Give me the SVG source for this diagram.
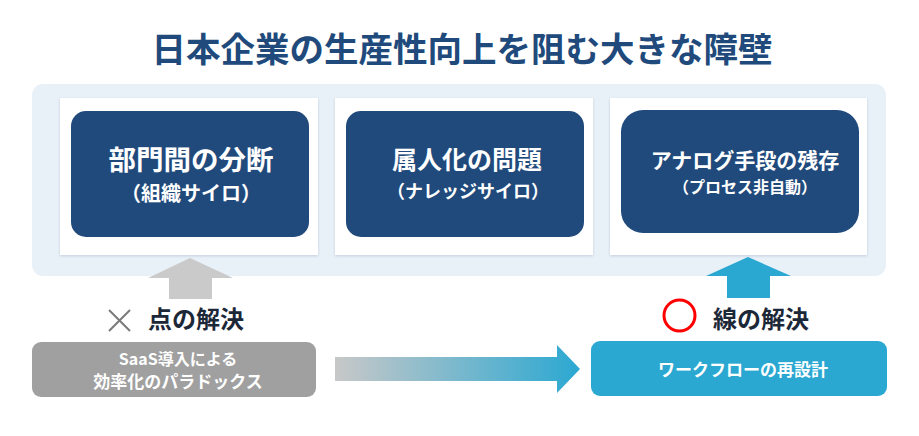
<svg xmlns="http://www.w3.org/2000/svg" width="919" height="436" viewBox="0 0 919 436">
<defs>
<style>
text{font-family:"Noto Sans CJK JP","Noto Sans",sans-serif;font-weight:bold;text-anchor:middle}
.card{fill:#ffffff;filter:url(#sh)}
.box{fill:#214a7c}
.w{fill:#ffffff}
.lbl{fill:#1c2838;font-size:24px}
</style>
<filter id="sh" x="-5%" y="-5%" width="110%" height="115%">
<feDropShadow dx="0" dy="1" stdDeviation="1.5" flood-color="#8090a8" flood-opacity="0.35"/>
</filter>
<linearGradient id="g" x1="335" y1="0" x2="580" y2="0" gradientUnits="userSpaceOnUse">
<stop offset="0" stop-color="#c8c8c8"/>
<stop offset="1" stop-color="#2ba8d2"/>
</linearGradient>
</defs>
<rect width="919" height="436" fill="#ffffff"/>
<text x="462" y="62" font-size="34.5" fill="#214a7c">日本企業の生産性向上を阻む大きな障壁</text>
<rect x="32" y="84" width="854" height="192" rx="11" fill="#e8f0f8"/>
<g id="node1">
<rect class="card" x="60" y="98" width="258" height="157"/>
<rect class="box" x="71" y="111" width="238" height="126" rx="15"/>
<text class="w" x="191" y="170" font-size="27.5">部門間の分断</text>
<text class="w" x="191" y="201" font-size="20">（組織サイロ）</text>
</g>
<g id="node2">
<rect class="card" x="335" y="98" width="258" height="157"/>
<rect class="box" x="346" y="111" width="238" height="126" rx="15"/>
<text class="w" x="467" y="169" font-size="25">属人化の問題</text>
<text class="w" x="468" y="198" font-size="18">（ナレッジサイロ）</text>
</g>
<g id="node3">
<rect class="card" x="610" y="98" width="257" height="157"/>
<rect class="box" x="621" y="110" width="238" height="123" rx="22"/>
<text class="w" x="745" y="168" font-size="21">アナログ手段の残存</text>
<text class="w" x="745" y="193" font-size="16">（プロセス非自動）</text>
</g>
<g id="connectors">
<polygon points="190,258 233,278 212,278 212,299 169,299 169,278 148,278" fill="#cacaca"/>
<polygon points="748,257 791,276 770,276 770,298 727,298 727,276 706,276" fill="#2ba8d2"/>
<polygon points="335,357 557,357 557,345 580,369 557,393 557,381 335,381" fill="url(#g)"/>
</g>
<g id="label-point">
<path d="M109,310 L130,331 M130,310 L109,331" stroke="#7a7a7a" stroke-width="2" fill="none"/>
<text class="lbl" x="196" y="328">点の解決</text>
</g>
<g id="label-line">
<circle cx="679.5" cy="315.5" r="15.5" fill="none" stroke="#ff0000" stroke-width="3"/>
<text class="lbl" x="761" y="328">線の解決</text>
</g>
<g id="node4">
<rect x="32" y="342" width="284" height="55" rx="9" fill="#a0a0a0"/>
<text class="w" x="178" y="365" font-size="16">SaaS導入による</text>
<text class="w" x="178" y="388" font-size="17">効率化のパラドックス</text>
</g>
<g id="node5">
<rect x="591" y="341" width="296" height="55" rx="9" fill="#2ba8d2"/>
<text class="w" x="743" y="376" font-size="17">ワークフローの再設計</text>
</g>
</svg>
